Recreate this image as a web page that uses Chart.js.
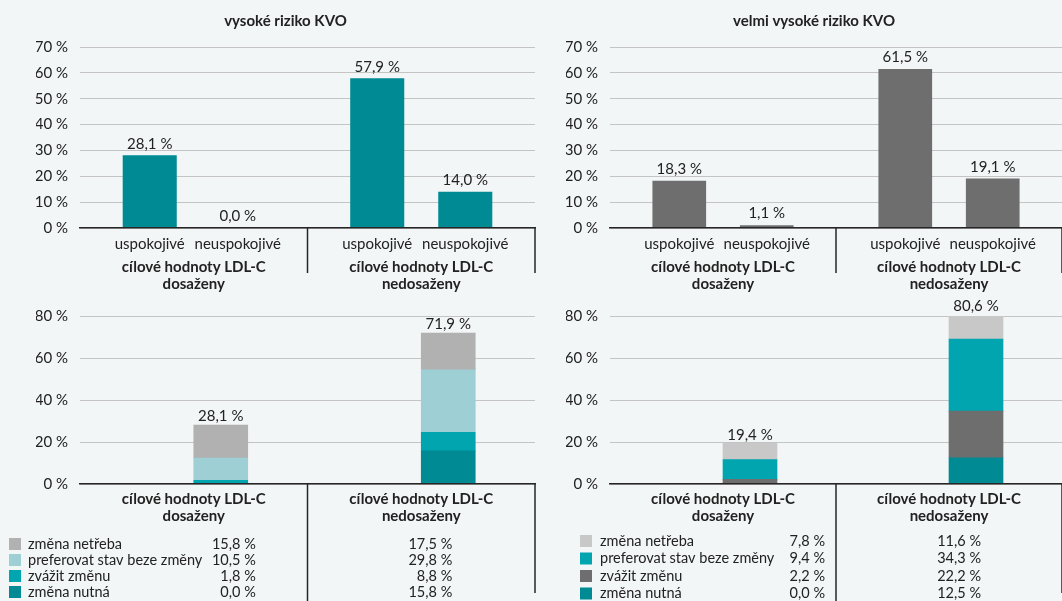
<!DOCTYPE html>
<html>
<head>
<meta charset="utf-8">
<script src="https://cdn.jsdelivr.net/npm/chart.js@4"></script>
<style>
  body { margin: 0; background: #f3f6f6; width: 1062px; height: 601px; overflow: hidden; position: relative; }
  canvas { position: absolute; }
</style>
</head>
<body>
<canvas id="highRisk" width="540" height="324" style="left:0;top:0"></canvas>
<canvas id="veryHighRisk" width="531" height="324" style="left:531px;top:0"></canvas>
<canvas id="highChange" width="540" height="306" style="left:0;top:295px"></canvas>
<canvas id="veryHighChange" width="531" height="306" style="left:531px;top:295px"></canvas>
<script>
// categories
const groups = [['cílové hodnoty LDL-C', 'dosaženy'], ['cílové hodnoty LDL-C', 'nedosaženy']];
const states = ['uspokojivé', 'neuspokojivé'];
const changes = ['změna nutná', 'zvážit změnu', 'preferovat stav beze změny', 'změna netřeba'];

// top charts (%)
const highRiskOk = [28.1, 57.9];
const highRiskNotOk = [0.0, 14.0];
const veryHighRiskOk = [18.3, 61.5];
const veryHighRiskNotOk = [1.1, 19.1];

// bottom charts (%), per category: dosaženy, nedosaženy
const highNeeded = [0.0, 15.8];
const highConsider = [1.8, 8.8];
const highKeep = [10.5, 29.8];
const highNotNeeded = [15.8, 17.5];
const veryHighNeeded = [0.0, 12.5];
const veryHighConsider = [2.2, 22.2];
const veryHighKeep = [9.4, 34.3];
const veryHighNotNeeded = [7.8, 11.6];

// axes
const topMax = 70, topStep = 10;
const bottomMax = 80, bottomStep = 20;

const ink = '#222';
const fmt = v => v.toFixed(1).replace('.', ',') + ' %';

Chart.defaults.font.family = 'Lato';
Chart.defaults.font.size = 15;
Chart.defaults.color = ink;

const annotate = {
  id: 'annotate',
  afterDatasetsDraw(chart, args, opts) {
    const { ctx, chartArea: area, scales: { x } } = chart;
    ctx.save();
    ctx.font = '15px Lato';
    ctx.fillStyle = ink;
    ctx.textAlign = 'center';

    if (opts.barLabels) {
      chart.data.datasets.forEach((ds, i) => {
        chart.getDatasetMeta(i).data.forEach((bar, j) => {
          ctx.textBaseline = 'bottom';
          ctx.fillText(fmt(ds.data[j]), bar.x, bar.y - opts.valueGap);
          ctx.textBaseline = 'middle';
          ctx.fillText(ds.label, bar.x, area.bottom + opts.subLabelY);
        });
      });
    }

    if (opts.totals) {
      const metas = chart.getSortedVisibleDatasetMetas().filter(m => m.stack === 'changes');
      const top = metas[metas.length - 1];
      ctx.textBaseline = 'bottom';
      chart.data.labels.forEach((_, j) => {
        const total = metas.reduce((s, m) => s + chart.data.datasets[m.index].data[j], 0);
        ctx.fillText(fmt(total), top.data[j].x, top.data[j].y - opts.valueGap);
      });
    }

    // group dividers below the axis
    ctx.strokeStyle = '#262626';
    ctx.lineWidth = 1.5;
    const mid = (x.getPixelForValue(0) + x.getPixelForValue(1)) / 2;
    [[mid, opts.sepBottom], [area.right, opts.edgeBottom]].forEach(([px, yb]) => {
      ctx.beginPath();
      ctx.moveTo(px, area.bottom);
      ctx.lineTo(px, yb);
      ctx.stroke();
    });

    if (opts.table) {
      const t = opts.table;
      ctx.font = '14.5px Lato';
      const rows = chart.data.datasets.filter(ds => ds.stack === 'changes').reverse();
      rows.forEach((ds, r) => {
        const y = t.top + r * t.step;
        ctx.fillStyle = ds.backgroundColor;
        ctx.fillRect(t.swatchX, y - 6, 12, 12);
        ctx.fillStyle = ink;
        ctx.textBaseline = 'middle';
        ctx.textAlign = 'left';
        ctx.fillText(ds.label, t.labelX, y);
        ctx.textAlign = 'right';
        ds.data.forEach((v, j) => ctx.fillText(fmt(v), x.getPixelForValue(j) + t.shift[j], y));
      });
    }
    ctx.restore();
  }
};

function makeChart(id, cfg) {
  return new Chart(document.getElementById(id), {
    type: 'bar',
    data: { labels: groups, datasets: cfg.datasets },
    plugins: [annotate],
    options: {
      responsive: false,
      animation: false,
      layout: { padding: cfg.padding },
      datasets: { bar: cfg.bar },
      plugins: {
        legend: { display: false },
        tooltip: { enabled: false },
        title: {
          display: !!cfg.title, text: cfg.title, color: ink,
          font: { size: 15, weight: 'bold' }, padding: { top: 4, bottom: 17 }
        },
        annotate: cfg.annotate
      },
      scales: {
        x: {
          stacked: cfg.stacked,
          grid: { display: false, drawTicks: false },
          border: { color: '#262626', width: 1.5, z: 1 },
          ticks: {
            padding: cfg.labelGap, font: { weight: 'bold', lineHeight: 1.1 },
            maxRotation: 0, autoSkip: false
          }
        },
        y: {
          stacked: cfg.stacked,
          min: 0,
          max: cfg.max,
          afterFit: s => { s.width = 44; },
          border: { display: false },
          grid: { color: '#c4c4c4', drawTicks: false },
          ticks: { stepSize: cfg.step, padding: 12, callback: v => v + ' %' }
        }
      }
    }
  });
}

function stateSets(ok, notOk, color) {
  return [
    { label: states[0], data: ok, backgroundColor: color },
    { label: states[1], data: notOk, backgroundColor: color }
  ];
}

function changeSets(series, colors) {
  // empty first stack keeps the bar in the right half of each category
  return [{ label: '', data: [], stack: 'gap' }].concat(
    changes.map((label, i) => ({ label, data: series[i], backgroundColor: colors[i], stack: 'changes' }))
  );
}

const topBar = { categoryPercentage: 0.774, barPercentage: 0.614 };
const topNotes = { barLabels: true, valueGap: 4, subLabelY: 16, sepBottom: 273, edgeBottom: 273 };

makeChart('highRisk', {
  title: 'vysoké riziko KVO',
  datasets: stateSets(highRiskOk, highRiskNotOk, '#008a94'),
  padding: { left: 36, right: 5, top: 8, bottom: 1 },
  bar: topBar, max: topMax, step: topStep, labelGap: 31, stacked: false,
  annotate: topNotes
});

makeChart('veryHighRisk', {
  title: 'velmi vysoké riziko KVO',
  datasets: stateSets(veryHighRiskOk, veryHighRiskNotOk, '#6e6e6e'),
  padding: { left: 35, right: 0, top: 8, bottom: 1 },
  bar: topBar, max: topMax, step: topStep, labelGap: 31, stacked: false,
  annotate: topNotes
});

makeChart('highChange', {
  datasets: changeSets([highNeeded, highConsider, highKeep, highNotNeeded],
    ['#008a94', '#00a5b0', '#9dcfd5', '#b1b1b1']),
  padding: { left: 36, right: 5, top: 0, bottom: 70 },
  bar: { barThickness: 54 }, max: bottomMax, step: bottomStep, labelGap: 7, stacked: true,
  annotate: {
    totals: true, valueGap: 1, sepBottom: 306, edgeBottom: 298,
    table: { top: 249, step: 16, swatchX: 9, labelX: 28, shift: [62, 31] }
  }
});

makeChart('veryHighChange', {
  datasets: changeSets([veryHighNeeded, veryHighConsider, veryHighKeep, veryHighNotNeeded],
    ['#008a94', '#6e6e6e', '#00a5b0', '#c8c8c8']),
  padding: { left: 35, right: 0, top: 0, bottom: 70 },
  bar: { barThickness: 54 }, max: bottomMax, step: bottomStep, labelGap: 7, stacked: true,
  annotate: {
    totals: true, valueGap: 1, sepBottom: 306, edgeBottom: 298,
    table: { top: 246, step: 17.5, swatchX: 49, labelX: 69, shift: [102, 32] }
  }
});
</script>
</body>
</html>
